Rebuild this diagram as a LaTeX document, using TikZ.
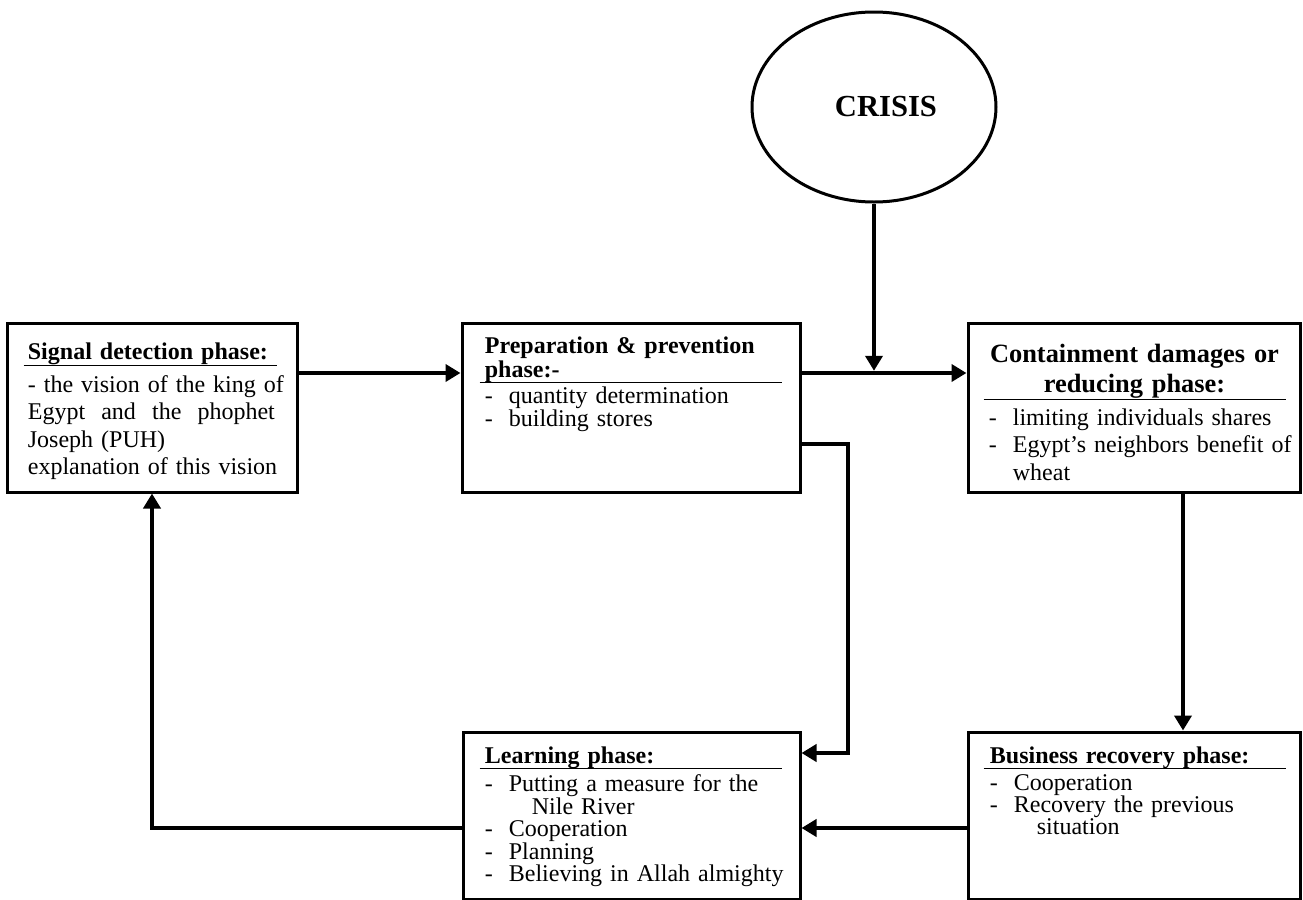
\documentclass[tikz,border=0pt]{standalone}
\usepackage{fontspec}
\setmainfont{Liberation Serif}
\usetikzlibrary{calc,shapes.geometric,arrows.meta}
\newcommand{\phaseitem}[1]{\makebox[12pt][l]{-}#1}

\begin{document}
\begin{tikzpicture}[x=0.5pt, y=-0.5pt, >={Triangle[length=7.5pt,width=8.5pt]},
    phase/.style={rectangle, draw, line width=1.5pt, inner sep=0pt, minimum height=84.5pt},
    crisisnode/.style={ellipse, draw, line width=1.5pt, inner sep=0pt, minimum width=122pt, minimum height=95pt, font=\bfseries\fontsize{15.3}{18}\selectfont},
    headtext/.style={inner sep=0pt, anchor=base west, text width=155pt, align=left, font=\bfseries\fontsize{12}{12}\selectfont},
    listtext/.style={inner sep=0pt, anchor=base west, text width=155pt, align=left, font=\fontsize{12}{11.25}\selectfont},
    rulebar/.style={line width=0.75pt},
    flow/.style={->, line width=2.2pt}]
    \useasboundingbox (0,0) rectangle (1303,900);

    % boxes
    \node[crisisnode] (crisis) at (874,107) {\hspace*{12pt}CRISIS};
    \node[phase, minimum width=145pt] (sig) at (152,407.5) {};
    \node[phase, minimum width=169pt] (prep) at (631,407.5) {};
    \node[phase, minimum width=166pt] (cont) at (1134,407.5) {};
    \node[phase, minimum width=168.5pt, minimum height=83.5pt] (learn) at (631.5,815.5) {};
    \node[phase, minimum width=166pt, minimum height=83.5pt] (biz) at (1134,815.5) {};

    % signal detection
    \node[headtext] (sigtitle) at ($(sig.north west)+(22,38)$) {Signal detection phase:};
    \draw[rulebar] ($(sig.north west)+(18,44)$) -- ++(253,0);
    \node[listtext, text width=140pt, font=\fontsize{12}{13.65}\selectfont] (siglist) at ($(sig.north west)+(22,71)$)
        {- the vision of the king of\\
         \makebox[123.5pt][l]{Egypt\hfill and\hfill the\hfill phophet}\\
         Joseph (PUH)\\
         explanation of this vision};

    % preparation
    \node[headtext] (preptitle) at ($(prep.north west)+(24,32)$) {Preparation \& prevention\\phase:-};
    \draw[rulebar] ($(prep.north west)+(19,61)$) -- ++(302,0);
    \node[listtext, font=\fontsize{12}{11.5}\selectfont] (preplist) at ($(prep.north west)+(24,82)$)
        {\phaseitem{quantity determination}\\
         \phaseitem{building stores}};

    % containment
    \node[headtext, anchor=base, align=center, font=\bfseries\fontsize{13.2}{15}\selectfont] (conttitle) at ($(cont.north west)+(168,41)$)
        {Containment damages or\\reducing phase:};
    \draw[rulebar] ($(cont.north west)+(17,78)$) -- ++(302,0);
    \node[listtext, font=\fontsize{12}{13.65}\selectfont] (contlist) at ($(cont.north west)+(22,104)$)
        {\phaseitem{limiting individuals shares}\\
         \phaseitem{Egypt’s neighbors benefit of}\\
         \hspace*{12pt}wheat};

    % learning
    \node[headtext] (learntitle) at ($(learn.north west)+(23,33)$) {Learning phase:};
    \draw[rulebar] ($(learn.north west)+(18,38)$) -- ++(302,0);
    \node[listtext] (learnlist) at ($(learn.north west)+(23,61)$)
        {\phaseitem{Putting a measure for the}\\
         \hspace*{23.5pt}Nile River\\
         \phaseitem{Cooperation}\\
         \phaseitem{Planning}\\
         \phaseitem{Believing in Allah almighty}};

    % business recovery
    \node[headtext] (biztitle) at ($(biz.north west)+(23,33)$) {Business recovery phase:};
    \draw[rulebar] ($(biz.north west)+(17,38)$) -- ++(302,0);
    \node[listtext, font=\fontsize{12}{11}\selectfont] (bizlist) at ($(biz.north west)+(23,60)$)
        {\phaseitem{Cooperation}\\
         \phaseitem{Recovery the previous}\\
         \hspace*{23.5pt}situation};

    % connectors
    \coordinate (hub) at (874,373);
    \coordinate (drop) at (848,444);
    \coordinate (loopin) at (848,753);
    \coordinate (down) at (1183,600);
    \coordinate (retn) at (152,828);
    \draw[flow, shorten >=1.1pt] (crisis) -- (hub);
    \draw[flow] (sig.east |- hub) -- (prep.west |- hub);
    \draw[flow] (prep.east |- hub) -- (cont.west |- hub);
    \draw[flow] (prep.east |- drop) -| (loopin) -- (learn.east |- loopin);
    \draw[flow] (cont.south -| down) -- (biz.north -| down);
    \draw[flow] (biz.west |- retn) -- (learn.east |- retn);
    \draw[flow] (learn.west |- retn) -| (sig.south);
\end{tikzpicture}
\end{document}
